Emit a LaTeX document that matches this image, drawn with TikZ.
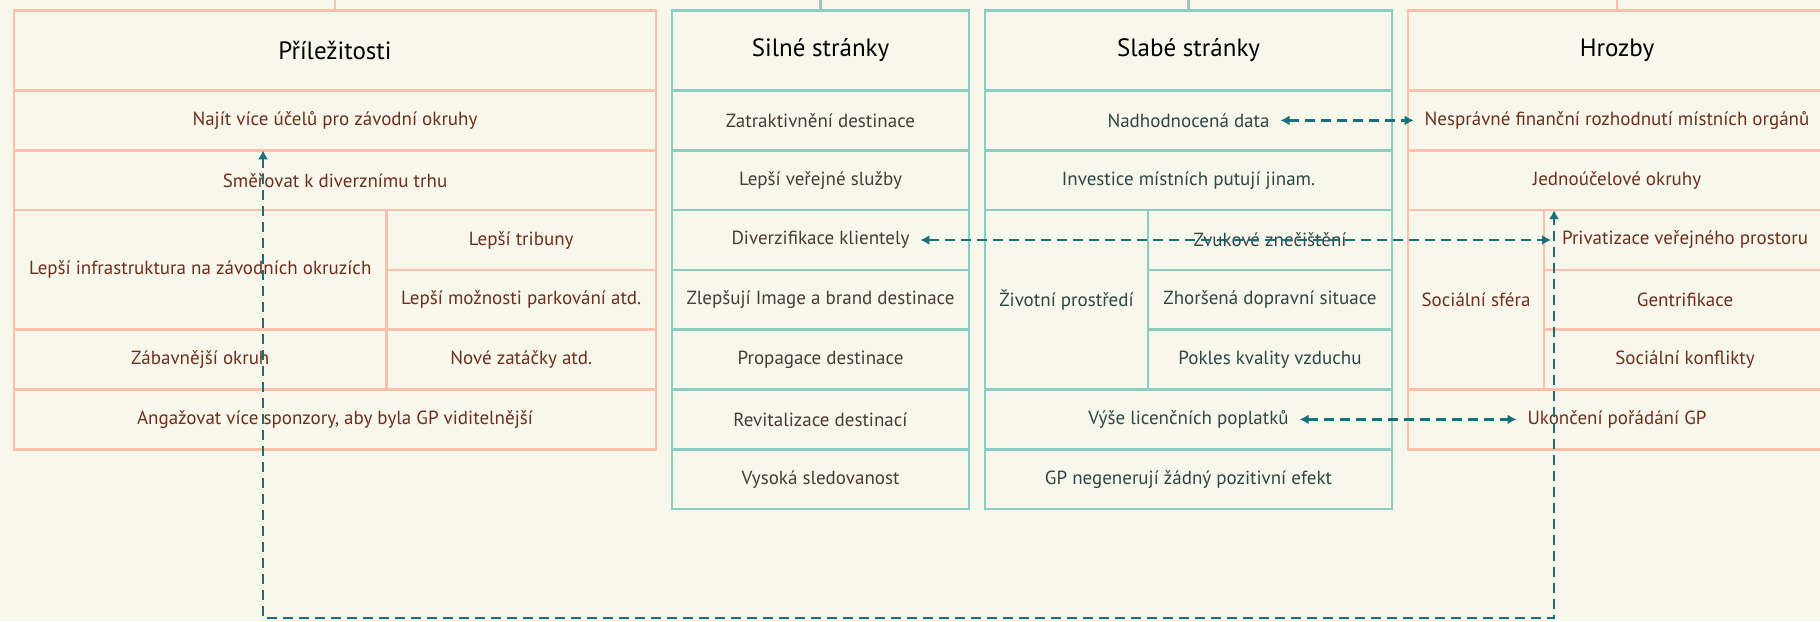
\documentclass[tikz,border=0pt]{standalone}
\usepackage{fontspec}
\setmainfont{PT Sans}
\usetikzlibrary{arrows.meta}
\definecolor{bgc}{HTML}{F8F7EC}
\definecolor{peachc}{HTML}{FDC0A8}
\definecolor{tealc}{HTML}{8DCCC4}
\definecolor{arrowc}{HTML}{17707A}
\definecolor{brownt}{HTML}{6E2F1D}
\definecolor{silt}{HTML}{4A3B36}
\definecolor{slat}{HTML}{2E4745}
\tikzset{
  cellbox/.style={rectangle,inner sep=0pt,outer sep=0pt,line width=2.6pt},
  celltext/.style={font=\fontsize{19}{22}\selectfont},
  pbox/.style={cellbox,draw=peachc,text=brownt},
  sbox/.style={cellbox,draw=tealc,text=silt},
  wbox/.style={cellbox,draw=tealc,text=slat},
  phead/.style={pbox,text=black,font=\fontsize{25}{28}\selectfont},
  shead/.style={sbox,text=black,font=\fontsize{25}{28}\selectfont},
  pstub/.style={draw=peachc,line width=2.6pt},
  sstub/.style={draw=tealc,line width=2.6pt},
  conn/.style={draw=arrowc,line width=2.2pt,dash pattern=on 10pt off 6pt,
    {Latex[length=9pt,width=10pt]}-{Latex[length=9pt,width=10pt]}},
}
\newcommand\mycell[7]{%
  \node[#1,minimum width={#5-#3},minimum height={#6-#4}] (#2) at ({(#3+#5)/2},{(#4+#6)/2}) {};
  \node[celltext,#1,draw=none,inner sep=11pt] (#2t) at (#2.center) {#7};
}
\def\ya{10.5}\def\yb{90.5}\def\yc{150.3}\def\yd{210.1}\def\ye{269.9}
\def\yf{329.7}\def\yg{389.5}\def\yh{449.3}\def\yi{509.1}
\begin{document}
\begin{tikzpicture}[x=1pt,y=-1pt]
\useasboundingbox (0,0) rectangle (1820,621);
\clip (0,0) rectangle (1820,621);
\fill[bgc] (0,0) rectangle (1820,621);
\path (0,-3) coordinate (top0);
% Prilezitosti
\mycell{phead}{Ph}{14}{\ya}{656}{\yb}{Příležitosti}
\mycell{pbox}{P1}{14}{\yb}{656}{\yc}{Najít více účelů pro závodní okruhy}
\mycell{pbox}{P2}{14}{\yc}{656}{\yd}{Směřovat k diverznímu trhu}
\mycell{pbox}{P3}{14}{\yd}{386.5}{\yf}{Lepší infrastruktura na závodních okruzích}
\mycell{pbox}{P3a}{386.5}{\yd}{656}{\ye}{Lepší tribuny}
\mycell{pbox}{P3b}{386.5}{\ye}{656}{\yf}{Lepší možnosti parkování atd.}
\mycell{pbox}{P4}{14}{\yf}{386.5}{\yg}{Zábavnější okruh}
\mycell{pbox}{P4a}{386.5}{\yf}{656}{\yg}{Nové zatáčky atd.}
\mycell{pbox}{P5}{14}{\yg}{656}{\yh}{Angažovat více sponzory, aby byla GP viditelnější}
% Silne
\mycell{shead}{Sh}{672}{\ya}{969}{\yb}{Silné stránky}
\mycell{sbox}{S1}{672}{\yb}{969}{\yc}{Zatraktivnění destinace}
\mycell{sbox}{S2}{672}{\yc}{969}{\yd}{Lepší veřejné služby}
\mycell{sbox}{S3}{672}{\yd}{969}{\ye}{Diverzifikace klientely}
\mycell{sbox}{S4}{672}{\ye}{969}{\yf}{Zlepšují Image a brand destinace}
\mycell{sbox}{S5}{672}{\yf}{969}{\yg}{Propagace destinace}
\mycell{sbox}{S6}{672}{\yg}{969}{\yh}{Revitalizace destinací}
\mycell{sbox}{S7}{672}{\yh}{969}{\yi}{Vysoká sledovanost}
% Slabe
\mycell{shead}{Wh}{985}{\ya}{1392}{\yb}{Slabé stránky}
\mycell{wbox}{W1}{985}{\yb}{1392}{\yc}{Nadhodnocená data}
\mycell{wbox}{W2}{985}{\yc}{1392}{\yd}{Investice místních putují jinam.}
\mycell{wbox}{W3}{985}{\yd}{1148}{\yg}{Životní prostředí}
\mycell{wbox}{W3a}{1148}{\yd}{1392}{\ye}{Zvukové znečištění}
\mycell{wbox}{W3b}{1148}{\ye}{1392}{\yf}{Zhoršená dopravní situace}
\mycell{wbox}{W3c}{1148}{\yf}{1392}{\yg}{Pokles kvality vzduchu}
\mycell{wbox}{W4}{985}{\yg}{1392}{\yh}{Výše licenčních poplatků}
\mycell{wbox}{W5}{985}{\yh}{1392}{\yi}{GP negenerují žádný pozitivní efekt}
% Hrozby
\mycell{phead}{Th}{1408}{\ya}{1826}{\yb}{Hrozby}
\mycell{pbox}{T1}{1408}{\yb}{1826}{\yc}{Nesprávné finanční rozhodnutí místních orgánů}
\mycell{pbox}{T2}{1408}{\yc}{1826}{\yd}{Jednoúčelové okruhy}
\mycell{pbox}{T3}{1408}{\yd}{1544}{\yg}{Sociální sféra}
\mycell{pbox}{T3a}{1544}{\yd}{1826}{\ye}{Privatizace veřejného prostoru}
\mycell{pbox}{T3b}{1544}{\ye}{1826}{\yf}{Gentrifikace}
\mycell{pbox}{T3c}{1544}{\yf}{1826}{\yg}{Sociální konflikty}
\mycell{pbox}{T4}{1408}{\yg}{1826}{\yh}{Ukončení pořádání GP}
% stubs
\draw[pstub] (Ph.north) -- (Ph.north |- top0);
\draw[sstub] (Sh.north) -- (Sh.north |- top0);
\draw[sstub] (Wh.north) -- (Wh.north |- top0);
\draw[pstub] (Th.north) -- (Th.north |- top0);
% connectors
\draw[conn] (W1t.east) -- (T1t.west);
\draw[conn] (S3t.east) -- (T3at.west);
\draw[conn] (W4t.east) -- (T4t.west);
\coordinate (bl) at (263,618);
\coordinate (br) at (1554,618);
\draw[conn] (P1.south -| bl) -- (bl) -- (br) -- (T2.south -| br);
\end{tikzpicture}
\end{document}
